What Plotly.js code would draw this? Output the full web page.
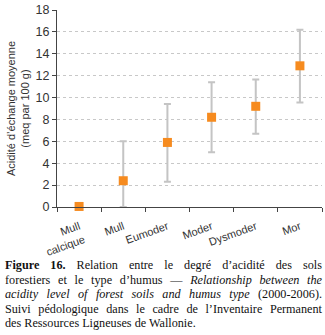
<!DOCTYPE html>
<html>
<head>
<meta charset="utf-8">
<script src="https://cdn.plot.ly/plotly-3.0.1.min.js"></script>
<style>
  html, body { margin: 0; padding: 0; background: #fff; width: 325px; height: 335px; overflow: hidden; position: relative; }
  #chart { position: absolute; left: 0; top: 0; width: 325px; height: 264px; }
  #caption { position: absolute; left: 5px; top: 258px; width: 317px;
    font-family: "Liberation Serif", "Times New Roman", serif; font-size: 12.2px; line-height: 14.6px; color: #111; }
  #caption div { text-align: justify; text-align-last: justify; white-space: nowrap; }
  #caption div.last { text-align-last: left; }
</style>
</head>
<body>
<div id="chart"></div>
<div id="caption">
  <div><b>Figure 16.</b> Relation entre le degré d’acidité des sols</div>
  <div>forestiers et le type d’humus — <i>Relationship between the</i></div>
  <div><i>acidity level of forest soils and humus type</i> (2000-2006).</div>
  <div>Suivi pédologique dans le cadre de l’Inventaire Permanent</div>
  <div class="last">des Ressources Ligneuses de Wallonie.</div>
</div>
<script>
const categories = ["Mull<br>calcique", "Mull", "Eumoder", "Moder", "Dysmoder", "Mor"];
const meanAcidity = [0.05, 2.4, 5.9, 8.2, 9.2, 12.9];
const errUpper = [0, 3.6, 3.5, 3.2, 2.45, 3.3];
const errLower = [0, 2.4, 3.6, 3.2, 2.5, 3.35];
const yTicks = [0, 2, 4, 6, 8, 10, 12, 14, 16, 18];

const trace = {
  type: "scatter",
  mode: "markers",
  x: categories,
  y: meanAcidity,
  cliponaxis: false,
  marker: { symbol: "square", size: 9, color: "#f68b1f" },
  error_y: {
    type: "data", symmetric: false,
    array: errUpper, arrayminus: errLower,
    color: "#c4c4c4", thickness: 2, width: 3.5
  },
  hoverinfo: "none"
};

const layout = {
  width: 325, height: 264,
  margin: { l: 57, r: 3, t: 10, b: 57 },
  paper_bgcolor: "rgba(0,0,0,0)", plot_bgcolor: "rgba(0,0,0,0)",
  showlegend: false,
  font: { family: "Liberation Sans, Arial, sans-serif", size: 12, color: "#333" },
  xaxis: {
    type: "category",
    range: [-0.5, 5.5],
    showline: true, linecolor: "#444", linewidth: 1,
    ticks: "outside", tickson: "boundaries", ticklen: 4, tickcolor: "#444",
    showgrid: false, zeroline: false,
    tickangle: -20,
    ticklabelstandoff: 8,
    tickfont: { size: 11, color: "#333" }
  },
  yaxis: {
    range: [0, 18],
    tickvals: yTicks,
    showline: true, linecolor: "#444", linewidth: 1,
    ticks: "outside", ticklen: 4, tickcolor: "#444",
    showgrid: true, gridcolor: "#c8c8c8", griddash: "dot", gridwidth: 1,
    zeroline: false,
    tickfont: { size: 12.5, color: "#333" },
    title: { text: "Acidité d’échange moyenne<br>(meq par 100 g)", font: { size: 11, color: "#333" }, standoff: 3 }
  }
};

Plotly.newPlot("chart", [trace], layout, { displayModeBar: false, staticPlot: true });
</script>
</body>
</html>
